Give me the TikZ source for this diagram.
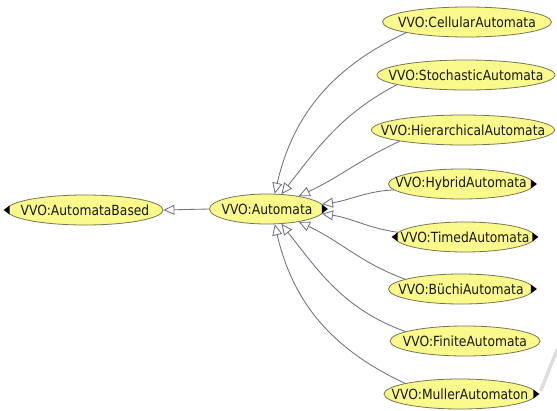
\documentclass[tikz,border=0pt]{standalone}
\usepackage{fontspec}
\setmainfont[FakeStretch=0.88]{DejaVu Sans}
\usetikzlibrary{shapes.geometric,arrows.meta,calc}
\definecolor{nodefill}{RGB}{250,249,140}
\definecolor{nodeline}{RGB}{120,118,80}
\definecolor{edgecol}{RGB}{112,112,130}
\definecolor{txtcol}{RGB}{25,25,15}
\definecolor{shadowcol}{RGB}{222,222,222}
\tikzset{
  cls/.style={ellipse, draw=nodeline, fill=nodefill, line width=0.8pt, inner sep=0pt,
    minimum height=30pt, text=txtcol, font=\fontsize{14}{17}\selectfont},
  isa/.style={draw=edgecol, line width=0.85pt,
    -{Triangle[open, length=11pt, width=10pt, fill=white]}},
}
\newcommand\lbl[1]{\makebox[0pt]{#1}}
\newcommand\rmark[1]{\fill[black] ($(#1.east)+(-3,-4.5)$) -- ($(#1.east)+(3,0)$) -- ($(#1.east)+(-3,4.5)$) -- cycle;}
\newcommand\lmark[1]{\fill[black] ($(#1.west)+(3,-4.5)$) -- ($(#1.west)+(-3,0)$) -- ($(#1.west)+(3,4.5)$) -- cycle;}
\begin{document}
\begin{tikzpicture}[x=1pt,y=-1pt]
\useasboundingbox (0,0) rectangle (557,410);
\draw[shadowcol, line width=3.5pt, line cap=round] (557,350) -- (541,390);
\node[cls, minimum width=156pt] (ab) at (85,210) {\lbl{VVO:AutomataBased}};
\node[cls, minimum width=115pt] (auto) at (267,209) {\lbl{VVO:Automata}};
\node[cls, minimum width=169pt] (cell) at (467,22) {\lbl{VVO:CellularAutomata}};
\node[cls, minimum width=178pt] (stoch) at (466,75) {\lbl{VVO:StochasticAutomata}};
\node[cls, minimum width=183pt] (hier) at (463,130) {\lbl{VVO:HierarchicalAutomata}};
\node[cls, minimum width=145pt] (hyb) at (461,184) {\lbl{VVO:HybridAutomata}};
\node[cls, minimum width=140pt] (timed) at (465,237) {\lbl{VVO:TimedAutomata}};
\node[cls, minimum width=145pt] (buchi) at (461,289) {\lbl{VVO:BüchiAutomata}};
\node[cls, minimum width=150pt] (fin) at (465,341) {\lbl{VVO:FiniteAutomata}};
\node[cls, minimum width=152pt] (mul) at (460,394) {\lbl{VVO:MullerAutomaton}};

\draw[isa] (auto.west) -- (ab.east);
\draw[isa] (cell.190) to[out=205, in=77] (auto.63);
\draw[isa] (stoch.188) to[out=208, in=52] (auto.46);
\draw[isa] (hier.190) to[out=205, in=25] (auto.22);
\draw[isa] (hyb.185) to[out=183, in=8] (auto.5);
\draw[isa] (timed.176) to[out=172, in=-8] (auto.-5);
\draw[isa] (buchi.170) to[out=160, in=-25] (auto.-22);
\draw[isa] (fin.171) to[out=160, in=-52] (auto.-46);
\draw[isa] (mul.169) to[out=155, in=-77] (auto.-63);

\rmark{auto}
\lmark{ab}
\rmark{hyb}
\rmark{timed}
\lmark{timed}
\rmark{buchi}
\rmark{mul}
\end{tikzpicture}
\end{document}
